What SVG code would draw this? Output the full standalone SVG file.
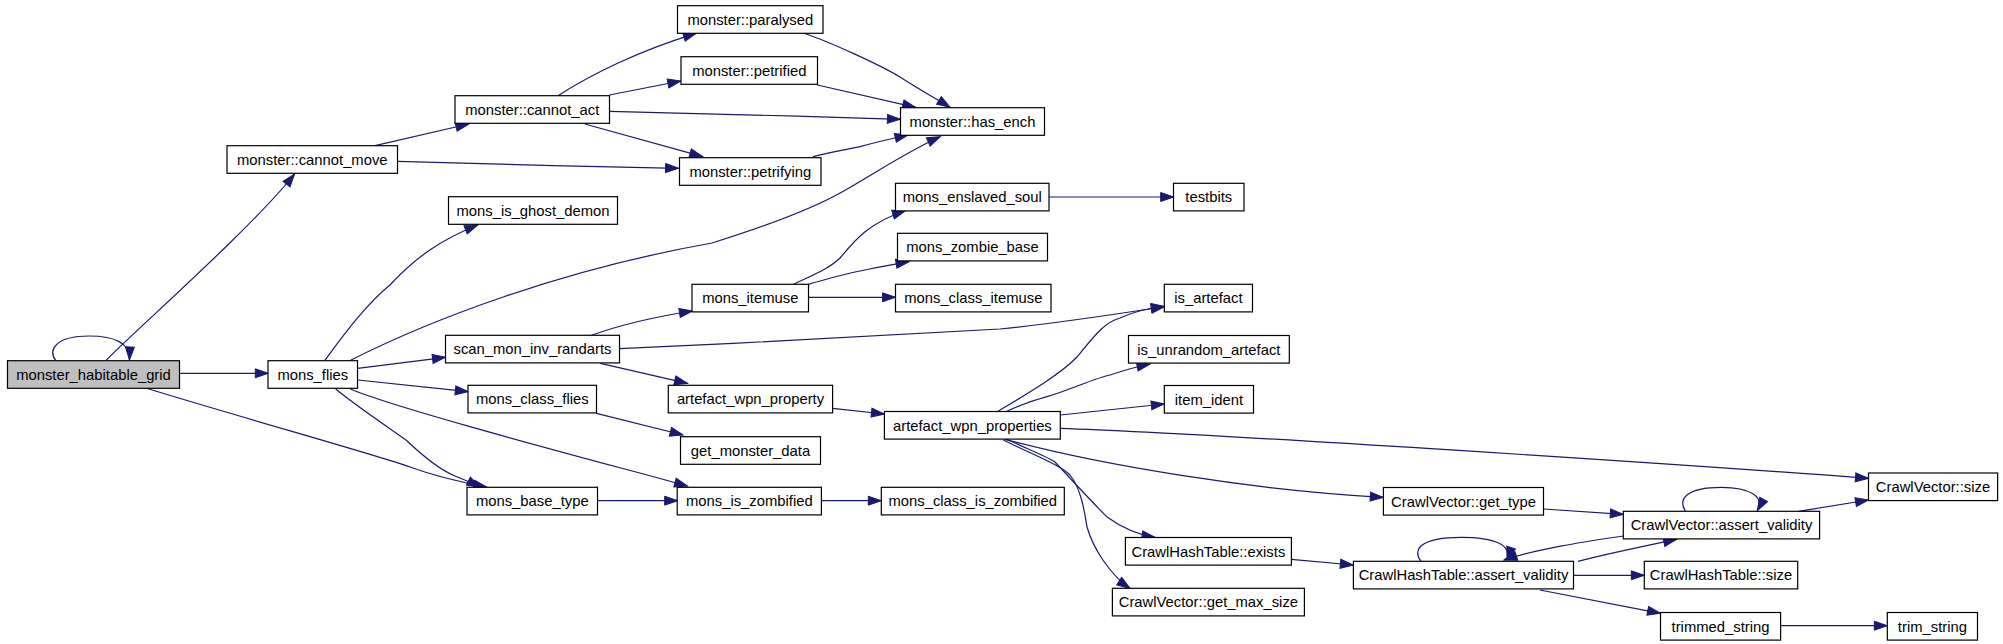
<svg xmlns="http://www.w3.org/2000/svg" width="2003" height="644" viewBox="0 0 2003 644">
<style>
.n rect{fill:#ffffff;stroke:#000000;stroke-width:1.2}
.n text{font-family:"Liberation Sans",Arial,sans-serif;font-size:14.8px;fill:#000000;text-anchor:middle}
#mhg rect{fill:#bfbfbf}
.e path{fill:none;stroke:#191970;stroke-width:1.2;marker-end:url(#a)}
</style>
<defs>
<marker id="a" markerUnits="userSpaceOnUse" markerWidth="14" markerHeight="10" refX="13" refY="4.5" orient="auto" overflow="visible">
<path d="M0,0 L13,4.5 L0,9 z" fill="#191970" stroke="#191970" stroke-width="1"/>
</marker>
</defs>
<rect width="2003" height="644" fill="#ffffff"/>
<g id="edges" class="e">
<path d="M55.8,360.7 C48,350 55,336 89,336 C115,336 130,343 129.5,360"/>
<path d="M105.8,360.7 C130,335 250,230 294.6,174"/>
<path d="M179.5,373.3 L268.3,373.3"/>
<path d="M146.4,388.3 C250,420 380,456 410,467 C440,478 465,483 486.6,487"/>
<path d="M357.6,368.3 L445.5,357.3"/>
<path d="M357.6,380 L468.3,391.7"/>
<path d="M335.7,389 C355,405 385,425 406,440 C425,458 440,470 455,476 C465,480 472,483 480,487"/>
<path d="M350.4,389 C400,410 600,462 687.5,486"/>
<path d="M324.6,360.7 C340,340 365,305 390,285 C415,258 440,240 477.7,225"/>
<path d="M349.6,360.7 C430,320 560,270 712,243 C760,228 810,210 842,192 C880,170 910,150 940.2,136.7"/>
<path d="M375,145.7 L468.8,124"/>
<path d="M397.3,161.3 C450,163 600,167 678.6,168.3"/>
<path d="M558,95.7 C590,75 640,50 696.4,33.3"/>
<path d="M609.4,95 L680.8,81"/>
<path d="M609.4,111.3 C650,112 800,116 900.4,119.3"/>
<path d="M584.8,124 L702.7,156.7"/>
<path d="M804,33.3 C830,42 880,65 900,77 C920,90 935,98 950,107.3"/>
<path d="M817.4,85 L915.6,107.3"/>
<path d="M813,156.7 C830,152 850,149 860,146.7 C880,141 895,138 908,135"/>
<path d="M591.5,335.3 C620,325 660,316 692.4,311"/>
<path d="M619.6,348.7 C750,343 900,335 1000,329 C1060,323 1110,315 1164.3,306.7"/>
<path d="M600.4,363.3 L687.5,383.3"/>
<path d="M596.4,413.3 L683,435"/>
<path d="M597.3,500.7 L677.7,500.7"/>
<path d="M793.7,284.3 C815,274 830,268 840,258 C855,240 870,222 905.4,210.7"/>
<path d="M808.5,284.3 C830,278 850,273 860,271 C880,267 895,264 909,261.7"/>
<path d="M808.5,297.3 L895.5,297.3"/>
<path d="M1049,197 L1173.7,197"/>
<path d="M821.4,500.7 L881.3,500.7"/>
<path d="M832.6,408.3 L884.4,414"/>
<path d="M998,411.3 C1020,398 1060,375 1077,357 C1095,335 1105,322 1120,318 C1135,311 1150,308 1164.3,306.5"/>
<path d="M1007,411.3 C1020,405 1035,400 1047,396.7 C1070,390 1095,378 1110,375 C1125,370 1140,366 1150,364"/>
<path d="M1060.3,415 L1164.3,404"/>
<path d="M1060.3,428.3 C1200,433 1650,462 1868.5,478.3"/>
<path d="M1005,439.3 C1100,465 1250,490 1383.3,497.3"/>
<path d="M1006.7,439.3 C1030,450 1050,458 1055,462 C1070,478 1090,500 1106.7,516.7 C1125,530 1140,535 1155,537.3"/>
<path d="M1003.3,440 C1040,458 1060,465 1070,475 C1082,490 1085,515 1087,527 C1093,548 1110,575 1130,588.3"/>
<path d="M1543.5,509 L1623.3,514.3"/>
<path d="M1685.6,511.3 C1678,500 1685,487.3 1721.5,487.3 C1750,487.3 1765,497 1757.3,510.7"/>
<path d="M1798.6,511.3 L1868.5,500"/>
<path d="M1623.3,536 C1590,541 1540,548 1504,560"/>
<path d="M1291.3,559.3 L1353.3,565"/>
<path d="M1421,561.3 C1412,550 1420,537.3 1461,537.3 C1495,537.3 1512,545 1507,560"/>
<path d="M1578,561.3 C1610,553 1650,545 1676.6,539.3"/>
<path d="M1573.5,575.3 L1644.3,575.3"/>
<path d="M1539.9,590 L1660.5,613.3"/>
<path d="M1780.6,625.7 L1887.3,625.7"/>
</g>
<g id="mhg" class="n"><rect x="7.5" y="360.7" width="172" height="27.6"/><text x="93.5" y="379.7">monster_habitable_grid</text></g>
<g id="mons_flies" class="n"><rect x="268" y="360.7" width="89.5" height="27.6"/><text x="312.8" y="379.7">mons_flies</text></g>
<g id="cannot_move" class="n"><rect x="227" y="145.7" width="170.5" height="27.6"/><text x="312.3" y="164.7">monster::cannot_move</text></g>
<g id="cannot_act" class="n"><rect x="455" y="95.7" width="154.5" height="27.6"/><text x="532.3" y="114.7">monster::cannot_act</text></g>
<g id="ghost_demon" class="n"><rect x="448.5" y="196.7" width="169" height="27.6"/><text x="533" y="215.7">mons_is_ghost_demon</text></g>
<g id="scan" class="n"><rect x="445.5" y="335.3" width="174" height="27.6"/><text x="532.5" y="354.3">scan_mon_inv_randarts</text></g>
<g id="class_flies" class="n"><rect x="468" y="385.3" width="128.5" height="27.6"/><text x="532.3" y="404.3">mons_class_flies</text></g>
<g id="base_type" class="n"><rect x="467" y="487.3" width="130.5" height="27.6"/><text x="532.3" y="506.3">mons_base_type</text></g>
<g id="paralysed" class="n"><rect x="677.5" y="5.7" width="145.5" height="27.6"/><text x="750.3" y="24.7">monster::paralysed</text></g>
<g id="petrified" class="n"><rect x="681" y="56.7" width="136.5" height="27.6"/><text x="749.3" y="75.7">monster::petrified</text></g>
<g id="petrifying" class="n"><rect x="679.5" y="157.7" width="141.5" height="27.6"/><text x="750.3" y="176.7">monster::petrifying</text></g>
<g id="has_ench" class="n"><rect x="900.5" y="107.7" width="144" height="27.6"/><text x="972.5" y="126.7">monster::has_ench</text></g>
<g id="enslaved_soul" class="n"><rect x="895.5" y="183.3" width="153.5" height="27.6"/><text x="972.3" y="202.3">mons_enslaved_soul</text></g>
<g id="testbits" class="n"><rect x="1173.5" y="183.3" width="70.5" height="27.6"/><text x="1208.8" y="202.3">testbits</text></g>
<g id="zombie_base" class="n"><rect x="897.5" y="233.3" width="150" height="27.6"/><text x="972.5" y="252.3">mons_zombie_base</text></g>
<g id="itemuse" class="n"><rect x="692" y="284.3" width="116.5" height="27.6"/><text x="750.3" y="303.3">mons_itemuse</text></g>
<g id="class_itemuse" class="n"><rect x="895.5" y="284.3" width="155.5" height="27.6"/><text x="973.3" y="303.3">mons_class_itemuse</text></g>
<g id="is_artefact" class="n"><rect x="1164.3" y="284.3" width="88.2" height="27.6"/><text x="1208.4" y="303.3">is_artefact</text></g>
<g id="is_unrandom" class="n"><rect x="1128.5" y="335.5" width="160.8" height="27.6"/><text x="1208.9" y="354.5">is_unrandom_artefact</text></g>
<g id="item_ident" class="n"><rect x="1164.3" y="385.5" width="89.2" height="27.6"/><text x="1208.9" y="404.5">item_ident</text></g>
<g id="awp_property" class="n"><rect x="668.3" y="385.3" width="164.3" height="27.6"/><text x="750.5" y="404.3">artefact_wpn_property</text></g>
<g id="awp_properties" class="n"><rect x="884.4" y="411.5" width="175.9" height="27.6"/><text x="972.4" y="430.5">artefact_wpn_properties</text></g>
<g id="get_monster_data" class="n"><rect x="680.5" y="436.7" width="140" height="27.6"/><text x="750.5" y="455.7">get_monster_data</text></g>
<g id="is_zombified" class="n"><rect x="677.2" y="487.3" width="144.2" height="27.6"/><text x="749.3" y="506.3">mons_is_zombified</text></g>
<g id="class_is_zombified" class="n"><rect x="881.3" y="487.3" width="183" height="27.6"/><text x="972.8" y="506.3">mons_class_is_zombified</text></g>
<g id="ht_exists" class="n"><rect x="1125.4" y="537.5" width="166" height="27.6"/><text x="1208.4" y="556.5">CrawlHashTable::exists</text></g>
<g id="cv_get_max_size" class="n"><rect x="1112.4" y="588.3" width="192" height="27.6"/><text x="1208.4" y="607.3">CrawlVector::get_max_size</text></g>
<g id="cv_get_type" class="n"><rect x="1383.4" y="487.5" width="160.1" height="27.6"/><text x="1463.5" y="506.5">CrawlVector::get_type</text></g>
<g id="cv_size" class="n"><rect x="1868.5" y="473" width="129.1" height="27.6"/><text x="1933" y="492">CrawlVector::size</text></g>
<g id="cv_assert_validity" class="n"><rect x="1623.3" y="511.3" width="196.3" height="27.6"/><text x="1721.5" y="530.3">CrawlVector::assert_validity</text></g>
<g id="ht_assert_validity" class="n"><rect x="1353.4" y="561.3" width="220.1" height="27.6"/><text x="1463.5" y="580.3">CrawlHashTable::assert_validity</text></g>
<g id="ht_size" class="n"><rect x="1644.3" y="561.3" width="153.4" height="27.6"/><text x="1721" y="580.3">CrawlHashTable::size</text></g>
<g id="trimmed_string" class="n"><rect x="1660.5" y="612.5" width="120.1" height="27.6"/><text x="1720.5" y="631.5">trimmed_string</text></g>
<g id="trim_string" class="n"><rect x="1887.3" y="612.5" width="90.2" height="27.6"/><text x="1932.4" y="631.5">trim_string</text></g>
</svg>
